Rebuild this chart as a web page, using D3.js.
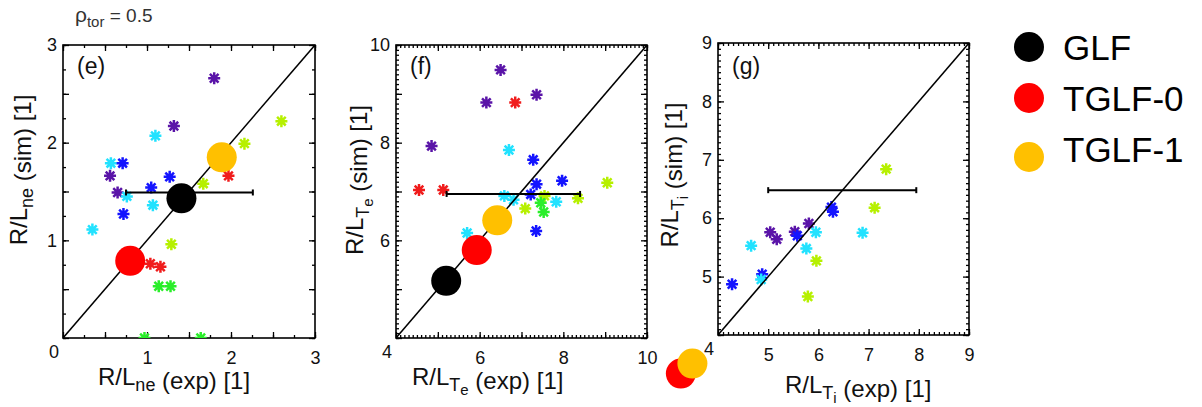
<!DOCTYPE html>
<html>
<head>
<meta charset="utf-8">
<script src="https://cdn.jsdelivr.net/npm/d3@7"></script>
<style>
  body { margin: 0; background: #fff; }
  svg { font-family: "Liberation Sans", Arial, Helvetica, sans-serif; }
</style>
</head>
<body>
<svg id="chart" width="1202" height="407"></svg>
<script>
// ---- values ----
var models = ["GLF", "TGLF-0", "TGLF-1"];
var modelColors = ["#000000", "#ff0000", "#ffc000"];

// one colour per shot group (asterisks)
var starColors = {
    purple : "#5a14a8",
    blue : "#1414ff",
    cyan : "#22e2ff",
    lime : "#b6f000",
    green : "#2aee2a",
    red : "#f01c1c"
};

// (e) R/L_ne
var neStars = [
    {x:1.80, y:2.66, c:"purple"}, {x:2.60, y:2.22, c:"lime"}, {x:1.32, y:2.17, c:"purple"},
    {x:1.10, y:2.07, c:"cyan"}, {x:2.16, y:1.99, c:"lime"}, {x:0.57, y:1.79, c:"cyan"},
    {x:0.71, y:1.79, c:"blue"}, {x:0.56, y:1.66, c:"purple"}, {x:1.27, y:1.65, c:"blue"},
    {x:1.97, y:1.66, c:"red"}, {x:1.67, y:1.58, c:"lime"}, {x:1.05, y:1.54, c:"blue"},
    {x:0.65, y:1.49, c:"purple"}, {x:0.76, y:1.45, c:"cyan"}, {x:1.07, y:1.36, c:"cyan"},
    {x:0.72, y:1.27, c:"blue"}, {x:0.35, y:1.11, c:"cyan"}, {x:1.29, y:0.96, c:"lime"},
    {x:1.04, y:0.76, c:"red"}, {x:1.16, y:0.73, c:"red"}, {x:1.14, y:0.53, c:"green"},
    {x:1.28, y:0.53, c:"green"}, {x:0.97, y:0.00, c:"green"}, {x:1.64, y:0.00, c:"green"}
];
var neModels = [
    {m:"GLF", x:1.41, y:1.43}, {m:"TGLF-0", x:0.80, y:0.79}, {m:"TGLF-1", x:1.89, y:1.85}
];
var neErr = {x0:0.75, x1:2.26, y:1.49};

// (f) R/L_Te
var teStars = [
    {x:6.50, y:9.49, c:"purple"}, {x:7.36, y:8.98, c:"purple"}, {x:6.16, y:8.82, c:"purple"},
    {x:6.85, y:8.82, c:"red"}, {x:4.85, y:7.93, c:"purple"}, {x:6.70, y:7.85, c:"cyan"},
    {x:7.28, y:7.65, c:"blue"}, {x:7.97, y:7.22, c:"blue"}, {x:9.05, y:7.18, c:"lime"},
    {x:7.36, y:7.15, c:"blue"}, {x:4.55, y:7.03, c:"red"}, {x:5.13, y:7.03, c:"red"},
    {x:6.59, y:6.91, c:"cyan"}, {x:7.22, y:6.94, c:"blue"}, {x:7.55, y:6.91, c:"lime"},
    {x:6.81, y:6.83, c:"cyan"}, {x:7.46, y:6.77, c:"green"}, {x:7.83, y:6.79, c:"cyan"},
    {x:8.35, y:6.86, c:"lime"}, {x:7.09, y:6.65, c:"lime"}, {x:7.53, y:6.58, c:"green"},
    {x:7.35, y:6.19, c:"blue"}, {x:5.70, y:6.15, c:"cyan"}
];
var teModels = [
    {m:"GLF", x:5.20, y:5.17}, {m:"TGLF-0", x:5.93, y:5.80}, {m:"TGLF-1", x:6.42, y:6.41}
];
var teErr = {x0:5.21, x1:8.40, y:6.95};

// (g) R/L_Ti
var tiStars = [
    {x:7.35, y:6.84, c:"lime"}, {x:7.12, y:6.18, c:"lime"}, {x:6.26, y:6.19, c:"blue"},
    {x:6.29, y:6.11, c:"blue"}, {x:5.81, y:5.91, c:"purple"}, {x:5.95, y:5.76, c:"cyan"},
    {x:6.88, y:5.75, c:"cyan"}, {x:5.04, y:5.76, c:"purple"}, {x:5.17, y:5.64, c:"purple"},
    {x:5.53, y:5.77, c:"purple"}, {x:5.58, y:5.70, c:"blue"}, {x:4.66, y:5.53, c:"cyan"},
    {x:5.76, y:5.48, c:"cyan"}, {x:5.96, y:5.27, c:"lime"}, {x:4.88, y:5.04, c:"blue"},
    {x:4.86, y:4.95, c:"cyan"}, {x:4.28, y:4.87, c:"blue"}, {x:5.79, y:4.66, c:"lime"}
];
var tiModels = [
    {m:"TGLF-0", x:3.26, y:3.34}, {m:"TGLF-1", x:3.49, y:3.51}
];
var tiErr = {x0:5.00, x1:7.95, y:6.48};

// ---- layout ----
var svg = d3.select("#chart");

var panels = [
    { stars:neStars, models:neModels, err:neErr, tag:"(e)",
      left:63, top:45, right:315, bottom:338,
      dom:[0, 3], major:0.5, minor:0.25, labelStep:1,
      sub:[{t:"n", l:1}, {t:"e", l:1}],
      xTitleX:98, xTitleY:385, yTitleX:27, yTitleY:170 },
    { stars:teStars, models:teModels, err:teErr, tag:"(f)",
      left:396, top:45, right:647, bottom:338,
      dom:[4, 10], major:1, minor:0.1, labelStep:2,
      sub:[{t:"T", l:1}, {t:"e", l:2}],
      xTitleX:412, xTitleY:385, yTitleX:363, yTitleY:180 },
    { stars:tiStars, models:tiModels, err:tiErr, tag:"(g)",
      left:718, top:43, right:969, bottom:335,
      dom:[4, 9], major:1, minor:0.1, labelStep:1,
      sub:[{t:"T", l:1}, {t:"i", l:2}],
      xTitleX:785, xTitleY:393, yTitleX:678, yTitleY:175 }
];

// font size and baseline shift for normal / subscript / sub-subscript
var lvlSize = [24, 18, 15];
var lvlShift = [0, 6, 10];

function writeTitle(sel, sub, tail){
    var parts = [{t:"R/L", l:0}].concat(sub).concat([{t:tail, l:0, shift:4}]);
    var prev = 0;
    parts.forEach(function(p){
        var sh = p.shift !== undefined ? p.shift : lvlShift[p.l];
        sel.append("tspan")
            .attr("font-size", lvlSize[p.l])
            .attr("dy", sh - prev)
            .text(p.t);
        prev = sh;
    });
}

// IDL style asterisk
function starPath(r){
    var d = r * 0.72;
    return "M" + (-r) + ",0L" + r + ",0M0," + (-r) + "L0," + r +
           "M" + (-d) + "," + (-d) + "L" + d + "," + d +
           "M" + (-d) + "," + d + "L" + d + "," + (-d);
}

panels.forEach(function(p, pi){
    var x = d3.scaleLinear().domain(p.dom).range([p.left, p.right]);
    var y = d3.scaleLinear().domain(p.dom).range([p.bottom, p.top]);
    var g = svg.append("g");

    g.append("clipPath").attr("id", "clip" + pi)
        .append("rect")
        .attr("x", p.left).attr("y", p.top)
        .attr("width", p.right - p.left).attr("height", p.bottom - p.top);

    var eps = 1e-6;
    var minorVals = d3.range(p.dom[0], p.dom[1] + eps, p.minor);
    var majorVals = d3.range(p.dom[0], p.dom[1] + eps, p.major);
    var labelVals = d3.range(p.dom[0] + p.labelStep, p.dom[1] + eps, p.labelStep);

    // inward ticks on all four sides
    var sides = [
        [d3.axisBottom(x), "translate(0," + p.bottom + ")"],
        [d3.axisTop(x), "translate(0," + p.top + ")"],
        [d3.axisLeft(y), "translate(" + p.left + ",0)"],
        [d3.axisRight(y), "translate(" + p.right + ",0)"]
    ];
    sides.forEach(function(s){
        [[minorVals, 3], [majorVals, 6]].forEach(function(t){
            var ax = g.append("g").attr("transform", s[1])
                .call(s[0].tickValues(t[0]).tickSize(-t[1]).tickFormat(""));
            ax.select(".domain").remove();
            ax.selectAll("line").attr("stroke", "#000").attr("stroke-width", 1.3);
        });
    });

    var xl = g.append("g").attr("transform", "translate(0," + p.bottom + ")")
        .call(d3.axisBottom(x).tickValues(labelVals).tickSize(0).tickPadding(13)
              .tickFormat(function(d){ return String(Math.round(d)); }));
    var yl = g.append("g").attr("transform", "translate(" + p.left + ",0)")
        .call(d3.axisLeft(y).tickValues(labelVals).tickSize(0).tickPadding(6)
              .tickFormat(function(d){ return String(Math.round(d)); }));
    [xl, yl].forEach(function(a){
        a.select(".domain").remove();
        a.selectAll("text").attr("font-size", 18).attr("fill", "#111")
            .attr("font-family", "Liberation Sans, Arial, sans-serif");
    });

    // shared corner label
    g.append("text")
        .attr("x", x(p.dom[0]) - 9)
        .attr("y", y(p.dom[0]) + 20)
        .attr("text-anchor", "middle")
        .attr("font-size", 18).attr("fill", "#111")
        .text(String(p.dom[0]));

    // frame
    g.append("rect")
        .attr("x", p.left).attr("y", p.top)
        .attr("width", p.right - p.left).attr("height", p.bottom - p.top)
        .attr("fill", "none").attr("stroke", "#000").attr("stroke-width", 1.6);

    var clipped = g.append("g").attr("clip-path", "url(#clip" + pi + ")");

    clipped.selectAll("path.star")
        .data(p.stars)
        .enter().append("path")
        .attr("class", "star")
        .attr("transform", function(d){ return "translate(" + x(d.x) + "," + y(d.y) + ")"; })
        .attr("d", starPath(6))
        .attr("stroke", function(d){ return starColors[d.c]; })
        .attr("stroke-width", 2.5)
        .attr("fill", "none");

    // one-to-one line
    clipped.append("line")
        .attr("x1", x(p.dom[0])).attr("y1", y(p.dom[0]))
        .attr("x2", x(p.dom[1])).attr("y2", y(p.dom[1]))
        .attr("stroke", "#000").attr("stroke-width", 1.5);

    // experimental error bar
    var e = p.err;
    g.append("line")
        .attr("x1", x(e.x0)).attr("x2", x(e.x1))
        .attr("y1", y(e.y)).attr("y2", y(e.y))
        .attr("stroke", "#000").attr("stroke-width", 2);
    [e.x0, e.x1].forEach(function(v){
        g.append("line")
            .attr("x1", x(v)).attr("x2", x(v))
            .attr("y1", y(e.y) - 3).attr("y2", y(e.y) + 3)
            .attr("stroke", "#000").attr("stroke-width", 2);
    });

    g.selectAll("circle.model")
        .data(p.models)
        .enter().append("circle")
        .attr("class", "model")
        .attr("cx", function(d){ return x(d.x); })
        .attr("cy", function(d){ return y(d.y); })
        .attr("r", 15)
        .attr("fill", function(d){ return modelColors[models.indexOf(d.m)]; });

    g.append("text")
        .attr("x", p.left + 14).attr("y", 74)
        .attr("font-size", 23).attr("fill", "#111")
        .text(p.tag);

    writeTitle(g.append("text")
        .attr("x", p.xTitleX).attr("y", p.xTitleY)
        .attr("fill", "#111"), p.sub, " (exp) [1]");

    writeTitle(g.append("text")
        .attr("transform", "translate(" + p.yTitleX + "," + p.yTitleY + ") rotate(-90)")
        .attr("text-anchor", "middle")
        .attr("fill", "#111"), p.sub, " (sim) [1]");
});

// rho_tor heading
var head = svg.append("text").attr("x", 75).attr("y", 22).attr("fill", "#333");
head.append("tspan").attr("font-size", 21).text("ρ");
head.append("tspan").attr("font-size", 15).attr("dy", 5).text("tor");
head.append("tspan").attr("font-size", 19).attr("dy", -5).text(" = 0.5");

// legend
var legendNudge = [0, 0, 8];
var leg = svg.append("g");
models.forEach(function(m, i){
    var base = 60 + i * 51;
    leg.append("circle")
        .attr("cx", 1029).attr("cy", base - 13 + legendNudge[i])
        .attr("r", 15)
        .attr("fill", modelColors[i]);
    leg.append("text")
        .attr("x", 1063).attr("y", base)
        .attr("font-size", 35).attr("fill", "#000")
        .text(m);
});
</script>
</body>
</html>
